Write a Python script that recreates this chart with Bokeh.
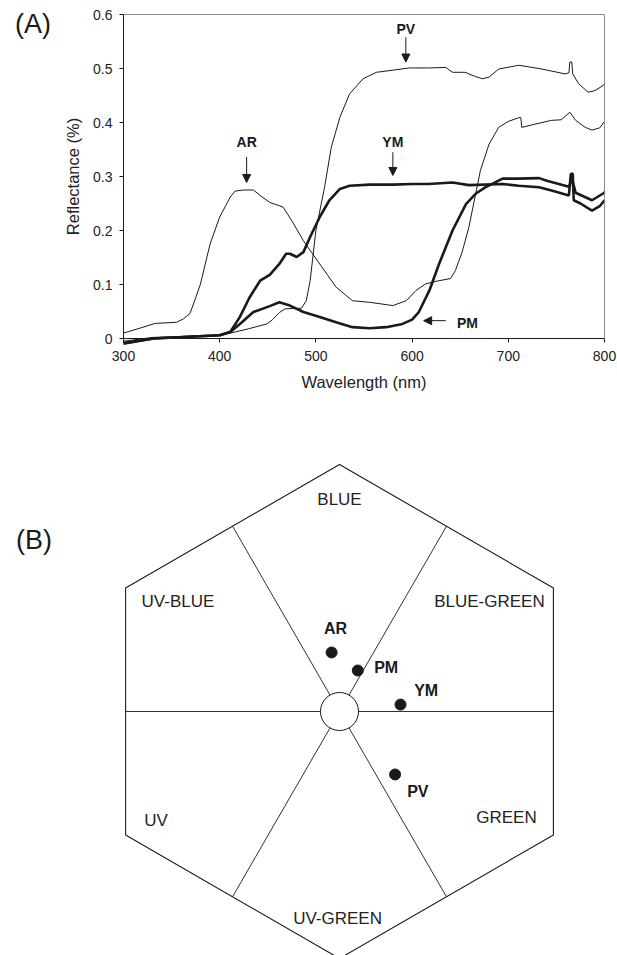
from bokeh.plotting import figure
from bokeh.models import Range1d, FixedTicker, CustomJSTickFormatter, Arrow, NormalHead, ColumnDataSource, LinearAxis
from bokeh.layouts import column
from bokeh.embed import file_html
from bokeh.resources import INLINE
from bokeh.core.properties import value
import numpy as np

FONT = "Liberation Sans"

# ---------------- Panel A data: reflectance spectra ----------------
ar_wl = [300, 315, 333, 355, 362, 369, 375, 380, 390, 400, 411, 416, 425, 435, 442, 452, 462, 466,
         476, 487, 504, 521, 538, 556, 580, 594, 604, 614, 625, 640, 645, 652, 659, 671, 680, 690,
         700, 711, 713, 714, 728, 745, 755, 764, 770, 780, 787, 795, 800]
ar_r = [0.010, 0.018, 0.028, 0.030, 0.036, 0.046, 0.075, 0.101, 0.175, 0.225, 0.262, 0.273, 0.275,
        0.275, 0.265, 0.252, 0.246, 0.243, 0.215, 0.181, 0.138, 0.095, 0.070, 0.067, 0.061, 0.070,
        0.089, 0.101, 0.106, 0.111, 0.126, 0.160, 0.206, 0.311, 0.360, 0.391, 0.402, 0.409, 0.409,
        0.391, 0.397, 0.404, 0.405, 0.419, 0.404, 0.391, 0.386, 0.390, 0.402]

pv_wl = [300, 330, 400, 411, 430, 449, 455, 462, 468, 485, 490, 494, 500, 509, 516, 525, 535, 549,
         563, 576, 597, 617, 635, 642, 655, 666, 673, 680, 690, 711, 735, 759, 763, 764, 766, 767,
         773, 783, 790, 799, 800]
pv_r = [-0.005, 0.002, 0.006, 0.010, 0.018, 0.027, 0.035, 0.048, 0.055, 0.056, 0.070, 0.107, 0.200,
        0.280, 0.354, 0.410, 0.453, 0.481, 0.493, 0.496, 0.501, 0.501, 0.502, 0.493, 0.493, 0.485,
        0.481, 0.484, 0.499, 0.506, 0.499, 0.490, 0.492, 0.512, 0.512, 0.490, 0.472, 0.456, 0.459,
        0.469, 0.472]

ym_wl = [300, 331, 400, 411, 421, 431, 442, 452, 462, 469, 473, 480, 487, 494, 504, 514, 525, 535,
         556, 580, 600, 617, 642, 659, 694, 711, 732, 745, 763, 765, 767, 768, 775, 787, 795, 800]
ym_r = [-0.009, 0.000, 0.006, 0.012, 0.040, 0.076, 0.107, 0.118, 0.138, 0.157, 0.157, 0.151, 0.160,
        0.188, 0.225, 0.256, 0.277, 0.283, 0.285, 0.285, 0.286, 0.286, 0.289, 0.284, 0.286, 0.283,
        0.280, 0.274, 0.265, 0.305, 0.305, 0.256, 0.250, 0.237, 0.245, 0.256]

pm_wl = [300, 331, 400, 411, 421, 435, 452, 462, 473, 487, 504, 521, 538, 556, 573, 590, 600, 607,
         618, 628, 642, 656, 666, 676, 694, 710, 732, 740, 763, 765, 767, 770, 787, 799, 800]
pm_r = [-0.009, 0.000, 0.006, 0.012, 0.027, 0.049, 0.060, 0.067, 0.061, 0.049, 0.040, 0.030, 0.021,
        0.019, 0.021, 0.027, 0.035, 0.049, 0.089, 0.138, 0.200, 0.249, 0.268, 0.280, 0.296, 0.296,
        0.297, 0.292, 0.281, 0.290, 0.290, 0.270, 0.256, 0.269, 0.271]

x_ticks = [300, 400, 500, 600, 700, 800]
y_ticks = [0, 0.1, 0.2, 0.3, 0.4, 0.5, 0.6]
x_bounds = (300, 800)
y_bounds = (0, 0.6)

# curve annotations (label position and arrow start/end)
ann_text = ["AR", "PV", "YM", "PM"]
ann_x = [428, 593.5, 580, 657.5]
ann_y = [0.364, 0.573, 0.364, 0.028]
arr_x0 = [428, 593.5, 580, 635]
arr_y0 = [0.336, 0.558, 0.345, 0.033]
arr_x1 = [428, 593.5, 580, 612]
arr_y1 = [0.289, 0.512, 0.302, 0.033]

# panel tags
tag_a = ["(A)"]
tag_a_x = [205.9]
tag_a_y = [0.5815]
tag_b = ["(B)"]
tag_b_x = [-1.237]
tag_b_y = [0.696]

# ---------------- Panel B data: colour hexagon ----------------
region_names = ["BLUE", "UV-BLUE", "BLUE-GREEN", "UV", "GREEN", "UV-GREEN"]
region_x = [0.0, -0.654, 0.607, -0.743, 0.676, -0.008]
region_y = [0.858, 0.445, 0.445, -0.441, -0.429, -0.838]

species = ["AR", "PM", "YM", "PV"]
species_x = [-0.032, 0.074, 0.247, 0.225]
species_y = [0.239, 0.166, 0.028, -0.255]
species_lx = [-0.016, 0.189, 0.351, 0.317]
species_ly = [0.336, 0.178, 0.085, -0.323]

INK = "#1a1a1a"
GREY = "#8a8a8a"

# ---------------- Figure A ----------------
p1 = figure(width=617, height=400, output_backend="svg", toolbar_location=None,
            x_range=Range1d(172.14, 813.51), y_range=Range1d(-0.11481, 0.62593),
            min_border=0)
p1.grid.visible = False
p1.outline_line_color = None

p1.line(ar_wl, ar_r, line_color=INK, line_width=1.0)
p1.line(pv_wl, pv_r, line_color=INK, line_width=1.0)
p1.line(ym_wl, ym_r, line_color=INK, line_width=2.6)
p1.line(pm_wl, pm_r, line_color=INK, line_width=2.6)

p1.text(ann_x, ann_y, text=ann_text, text_font=value(FONT), text_font_size="14px",
        text_font_style="bold", text_align="center", text_baseline="middle", text_color=INK)
asrc = ColumnDataSource(dict(x0=arr_x0, y0=arr_y0, x1=arr_x1, y1=arr_y1))
p1.add_layout(Arrow(end=NormalHead(size=8, fill_color=INK, line_color=INK, line_width=1),
                    x_start="x0", y_start="y0", x_end="x1", y_end="y1", source=asrc,
                    line_color=INK, line_width=1))
p1.text(tag_a_x, tag_a_y, text=tag_a, text_font=value(FONT), text_font_size="27px",
        text_align="center", text_baseline="middle", text_color=INK)

xa = p1.xaxis[0]
ya = p1.yaxis[0]
for ax in (xa, ya):
    ax.axis_line_color = INK
    ax.major_tick_line_color = INK
    ax.minor_tick_line_color = None
    ax.major_tick_out = 4
    ax.major_tick_in = 0
    ax.major_label_text_font = FONT
    ax.major_label_text_font_size = "14px"
    ax.major_label_text_color = "#222222"
    ax.axis_label_text_font = FONT
    ax.axis_label_text_font_size = "16.5px"
    ax.axis_label_text_font_style = "normal"
    ax.axis_label_text_color = "#222222"

xa.ticker = FixedTicker(ticks=x_ticks)
ya.ticker = FixedTicker(ticks=y_ticks)
ya.formatter = CustomJSTickFormatter(code="return Math.abs(tick) < 1e-9 ? '0' : tick.toFixed(1);")
xa.bounds = x_bounds
ya.bounds = y_bounds
xa.fixed_location = y_bounds[0]
ya.fixed_location = x_bounds[0]
xa.major_label_standoff = 8
ya.major_label_standoff = 7
xa.axis_label = "Wavelength (nm)"
ya.axis_label = "Reflectance (%)"
xa.axis_label_standoff = 9
ya.axis_label_standoff = 8

# grey frame on top and right, as plain axes without ticks
top_ax = LinearAxis(fixed_location=y_bounds[1], bounds=x_bounds, ticker=FixedTicker(ticks=[]),
                    axis_line_color=GREY, major_tick_line_color=None, minor_tick_line_color=None)
right_ax = LinearAxis(fixed_location=x_bounds[1], bounds=y_bounds, ticker=FixedTicker(ticks=[]),
                      axis_line_color=GREY, major_tick_line_color=None, minor_tick_line_color=None)
p1.add_layout(top_ax, "above")
p1.add_layout(right_ax, "right")

# ---------------- Figure B ----------------
p2 = figure(width=617, height=555, output_backend="svg", toolbar_location=None,
            x_range=Range1d(-1.3725, 1.1255), y_range=Range1d(-0.9879, 1.2591),
            x_axis_type=None, y_axis_type=None, min_border=0)
p2.grid.visible = False
p2.outline_line_color = None

ang_v = np.deg2rad([90, 30, -30, -90, -150, 150, 90])
p2.line(np.cos(ang_v), np.sin(ang_v), line_color=INK, line_width=1.1)
apo = np.cos(np.deg2rad(30))
ang_s = np.deg2rad([0, 60, 120, 180, 240, 300])
p2.segment(x0=np.zeros(6), y0=np.zeros(6), x1=apo * np.cos(ang_s), y1=apo * np.sin(ang_s),
           line_color=INK, line_width=0.9)
p2.circle(x=[0], y=[0], radius=0.077, fill_color="white", line_color=INK, line_width=1)

p2.text(region_x, region_y, text=region_names, text_font=value(FONT), text_font_size="17px",
        text_align="center", text_baseline="middle", text_color="#222222")
p2.scatter(species_x, species_y, size=11, fill_color=INK, line_color=INK)
p2.text(species_lx, species_ly, text=species, text_font=value(FONT), text_font_size="16px",
        text_font_style="bold", text_align="center", text_baseline="middle", text_color=INK)
p2.text(tag_b_x, tag_b_y, text=tag_b, text_font=value(FONT), text_font_size="27px",
        text_align="center", text_baseline="middle", text_color=INK)

layout = column(p1, p2, spacing=0)
open("out.html", "w").write(file_html(layout, INLINE))
